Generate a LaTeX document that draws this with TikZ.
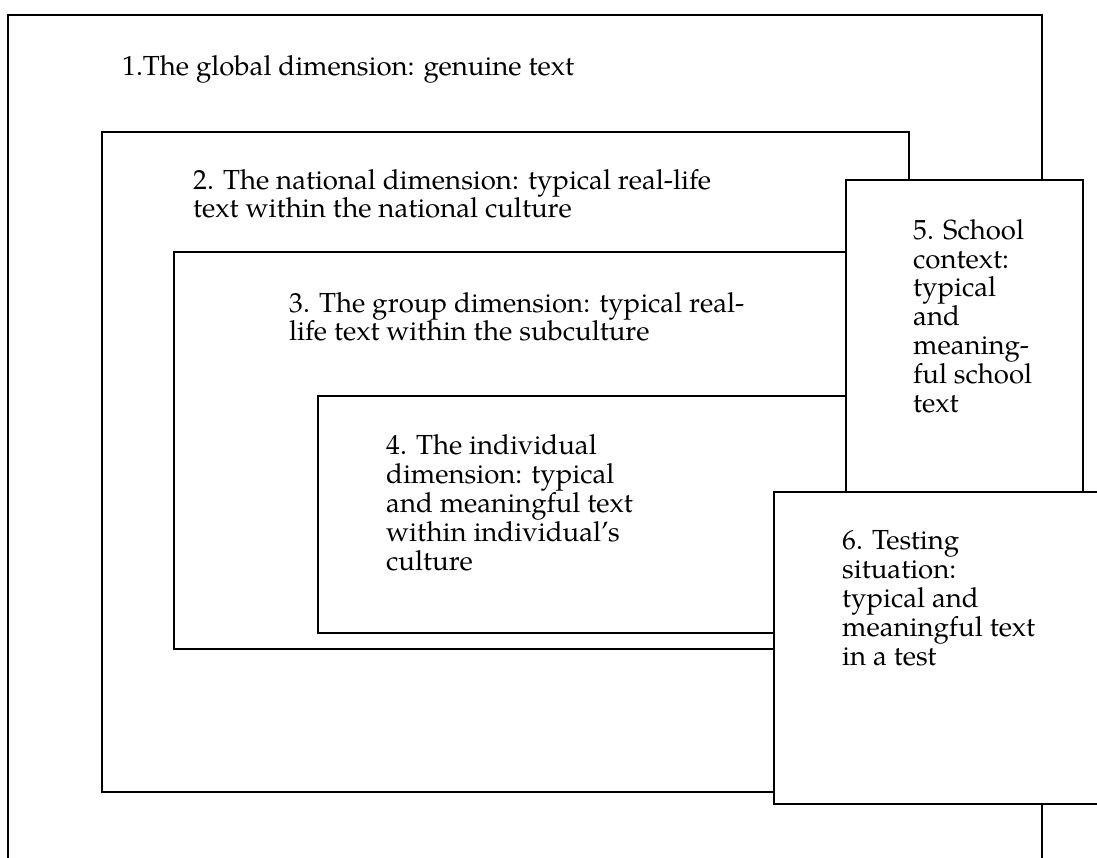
\documentclass[tikz,border=0pt]{standalone}
\usepackage{fontspec}
\setmainfont{TeX Gyre Pagella}

\begin{document}
\begin{tikzpicture}[x=1pt, y=-1pt,
  frame/.style={draw, line width=1.8pt},
  cover/.style={draw, fill=white, line width=1.8pt},
  label/.style={anchor=base west, align=left, inner sep=0pt, font=\fontsize{27.6}{28.8}\selectfont}
]
\useasboundingbox (0,0) rectangle (1097,858);
\clip (0,0) rectangle (1097,858);
\fill[white] (0,0) rectangle (1097,858);

% nested dimensions
\draw[frame] (8,15) rectangle (1042,900);
\draw[frame] (102,132) rectangle (909,792);
\draw[frame] (174,252) rectangle (950,649);
\draw[frame] (318,396) rectangle (920,633);

% labels sit on the baseline of their last line
\node[label] (global) at (122,76) {1.The global dimension: genuine text};
\node[label] (national) at (193,218) {2. The national dimension: typical real-life\\text within the national culture};
\node[label] (group) at (289,341) {3. The group dimension: typical real-\\life text within the subculture};
\node[label] (individual) at (386,570) {4. The individual\\dimension: typical\\and meaningful text\\within individual’s\\culture};

% school and test boxes on top
\draw[cover] (846,180) rectangle (1083,492);
\node[label] (school) at (913,412) {5. School\\context:\\typical\\and\\meaning-\\ful school\\text};

\draw[cover] (774,492) rectangle (1120,804);
\node[label] (testing) at (842,665) {6. Testing\\situation:\\typical and\\meaningful text\\in a test};
\end{tikzpicture}
\end{document}
